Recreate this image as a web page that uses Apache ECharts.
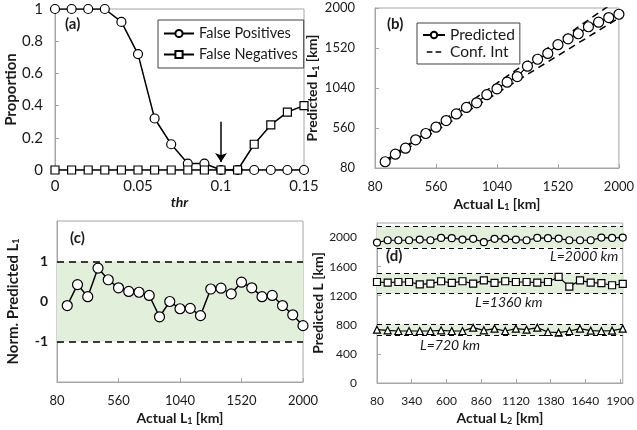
<!DOCTYPE html>
<html><head><meta charset="utf-8">
<script src="https://cdn.jsdelivr.net/npm/echarts@6/dist/echarts.min.js"></script>
<style>html,body{margin:0;padding:0;background:#fff}#c{width:637px;height:430px}</style>
</head><body><div id="c"></div>
<script>
// ---- Panel (a)
const thr = [0,0.01,0.02,0.03,0.04,0.05,0.06,0.07,0.08,0.09,0.1,0.11,0.12,0.13,0.14,0.15];
const falsePositives = [1,1,1,1,0.92,0.72,0.32,0.16,0.04,0.04,0,0,0,0,0,0];
const falseNegatives = [0,0,0,0,0,0,0,0,0,0,0,0,0.16,0.28,0.36,0.40];
const arrowThr = 0.1, arrowFrom = 0.3, arrowTo = 0.05;
// ---- Panel (b)
const actualL1 = [160,240,320,400,480,560,640,720,800,880,960,1040,1120,1200,1280,1360,1440,1520,1600,1680,1760,1840,1920,2000];
const predictedL1 = [155,246,318,418,494,570,649,729,807,862,960,1030,1110,1177,1302,1385,1455,1560,1630,1691,1775,1830,1885,1925];
const confX = [160,2000];
const confUpper = [170,2110];
const confLower = [150,1880];
const ticksL1 = [80,560,1040,1520,2000];
// ---- Panel (c)
const normL1 = [-0.1,0.42,0.12,0.83,0.54,0.34,0.25,0.23,0.15,-0.38,0.0,-0.18,-0.17,-0.35,0.31,0.33,0.19,0.48,0.34,0.12,0.15,-0.1,-0.33,-0.6];
const ticksNorm = [-1,0,1];
// ---- Panel (d)
const actualL2 = [80,160,240,320,400,480,560,640,720,800,880,960,1040,1120,1200,1280,1360,1440,1520,1600,1680,1760,1840,1920];
const pred2000 = [1931,1963,1963,1963,1972,1963,1995,1991,1972,1982,1936,1982,1982,1972,1963,1995,1991,1986,1963,1963,1963,2000,1995,2000];
const pred1360 = [1389,1380,1389,1389,1357,1367,1399,1376,1399,1367,1412,1376,1399,1389,1389,1380,1389,1458,1325,1412,1380,1372,1344,1362];
const pred720  = [733,724,715,715,715,715,724,715,715,761,724,747,715,747,733,761,701,692,715,747,720,715,720,747];
const band2000 = [1858,2156];
const band1360 = [1229,1504];
const band720  = [656,807];
const ticksL2x = [80,340,600,860,1120,1380,1640,1900];
const ticksL2y = [0,400,800,1200,1600,2000];

const FONT = 'Lato, "Open Sans", sans-serif';
const TXT = '#1a1a1a';
const GRAY = '#a6a6a6';
const GREEN = '#e2efda';

function zip(x, y){ return x.map((v,i)=>[v,y[i]]); }

function axis(o){
  const a = {
    type:'value', gridIndex:o.g, min:o.min, max:o.max,
    name:o.name, nameLocation:'middle', nameGap:o.nameGap,
    nameTextStyle:{fontFamily:FONT, fontSize:o.nameSize||14, fontWeight:'bold', color:TXT, fontStyle:o.italic?'italic':'normal',
      rich:{s:{fontFamily:FONT, fontSize:9, fontWeight:'bold', color:TXT, padding:[7,0,0,0]}}},
    axisLine:{show:true, onZero:false, lineStyle:{color:GRAY, width:1}},
    axisTick:{show:true, inside:true, length:4, lineStyle:{color:GRAY}},
    axisLabel:{fontFamily:FONT, fontSize:o.size||13, fontWeight:o.bold?'bold':'normal', color:TXT, margin:o.margin,
      hideOverlap:false, showMinLabel:true, showMaxLabel:true, formatter:(v)=>String(v)},
    splitLine:{show:false}
  };
  if (o.interval !== undefined) a.interval = o.interval;
  if (o.custom){ a.axisLabel.customValues = o.custom; a.axisTick.customValues = o.custom; }
  return a;
}

const markerStyle = {color:'#fff', borderColor:'#000', borderWidth:1.2};
const lineSt = {color:'#000', width:1.5};
const dashIcon = 'path://M0,4.2 h7 v1.6 h-7 z M11,4.2 h7 v1.6 h-7 z M0,0 h0.01 v10 h-0.01 z';

const option = {
  animation:false,
  textStyle:{fontFamily:FONT},
  grid:[
    {left:55, top:9, width:249, height:161, show:true, borderColor:GRAY, borderWidth:1},
    {left:375, top:8, width:247, height:160, show:true, borderColor:GRAY, borderWidth:1},
    {left:57, top:221, width:246, height:161, show:true, borderColor:GRAY, borderWidth:1},
    {left:377, top:223, width:247, height:160, show:true, borderColor:GRAY, borderWidth:1}
  ],
  xAxis:[
    axis({g:0, min:0, max:0.15, interval:0.05, name:'thr', nameGap:25, italic:true, margin:9, size:15}),
    axis({g:1, min:80, max:2000, custom:ticksL1, name:'Actual L{s|1} [km]', nameGap:28, margin:12, size:13}),
    axis({g:2, min:80, max:2000, custom:ticksL1, name:'Actual L{s|1} [km]', nameGap:28, margin:12, size:13}),
    axis({g:3, min:80, max:1920, custom:ticksL2x, name:'Actual L{s|2} [km]', nameGap:27, margin:12, size:12})
  ],
  yAxis:[
    axis({g:0, min:0, max:1, interval:0.2, name:'Proportion', nameGap:33, margin:12, size:15, nameSize:15}),
    axis({g:1, min:80, max:2000, custom:ticksL1, name:'Predicted L{s|1} [km]', nameGap:46, margin:20, size:13, nameSize:14}),
    axis({g:2, min:-2, max:2, custom:ticksNorm, name:'Norm. Predicted L{s|1}', nameGap:36, margin:9, size:14, bold:true, nameSize:15}),
    axis({g:3, min:0, max:2200, custom:ticksL2y, name:'Predicted L [km]', nameGap:42, margin:20, size:12, nameSize:14})
  ],
  legend:[
    {data:['False Positives','False Negatives'], orient:'vertical', left:158, top:20,
     borderColor:'#404040', borderWidth:1, borderRadius:0, padding:[6,6,6,5], itemWidth:30, itemHeight:9, itemGap:6,
     textStyle:{fontFamily:FONT, fontSize:14.5, color:TXT}},
    {data:['Predicted',{name:'Conf. Int', icon:dashIcon}], orient:'vertical', left:417, top:23,
     borderColor:'#404040', borderWidth:1, padding:[4,5,4,5], itemWidth:22, itemHeight:8, itemGap:1,
     textStyle:{fontFamily:FONT, fontSize:15.5, color:TXT}}
  ],
  graphic:[
    {type:'text', left:65, top:17, style:{text:'(a)', font:'bold 15px '+FONT, fill:TXT}},
    {type:'text', left:387, top:17, style:{text:'(b)', font:'bold 15px '+FONT, fill:TXT}},
    {type:'text', left:70, top:231, style:{text:'(c)', font:'bold 15px '+FONT, fill:TXT}},
    {type:'text', left:386, top:249, style:{text:'(d)', font:'bold 15px '+FONT, fill:TXT}},
    {type:'text', left:550, top:249, style:{text:'L=2000 km', font:'italic 14px '+FONT, fill:TXT}},
    {type:'text', left:475, top:295, style:{text:'L=1360 km', font:'italic 14px '+FONT, fill:TXT}},
    {type:'text', left:420, top:338, style:{text:'L=720 km', font:'italic 14px '+FONT, fill:TXT}}
  ],
  series:[
    {name:'False Positives', type:'line', xAxisIndex:0, yAxisIndex:0, data:zip(thr,falsePositives),
     symbol:'circle', symbolSize:9, itemStyle:markerStyle, lineStyle:lineSt, z:3},
    {name:'False Negatives', type:'line', xAxisIndex:0, yAxisIndex:0, data:zip(thr,falseNegatives),
     symbol:'rect', symbolSize:8, itemStyle:markerStyle, lineStyle:lineSt, z:4},
    {type:'lines', coordinateSystem:'cartesian2d', xAxisIndex:0, yAxisIndex:0,
     data:[{coords:[[arrowThr,arrowFrom],[arrowThr,arrowTo]]}], symbol:['none','arrow'], symbolSize:[0,9],
     lineStyle:{color:'#000', width:1.5, opacity:1}, z:5},
    {name:'Predicted', type:'line', xAxisIndex:1, yAxisIndex:1, data:zip(actualL1,predictedL1),
     symbol:'circle', symbolSize:10, itemStyle:markerStyle, lineStyle:{color:'#000', width:1.2}, z:4},
    {name:'Conf. Int', type:'line', xAxisIndex:1, yAxisIndex:1, data:zip(confX,confUpper),
     symbol:'none', lineStyle:{color:'#000', width:1.5, type:[7,5]}, itemStyle:{color:'#000'}, z:3},
    {name:'Conf. Int', type:'line', xAxisIndex:1, yAxisIndex:1, data:zip(confX,confLower),
     symbol:'none', lineStyle:{color:'#000', width:1.5, type:[7,5]}, itemStyle:{color:'#000'}, z:3},
    {name:'norm', type:'line', xAxisIndex:2, yAxisIndex:2, data:zip(actualL1,normL1),
     symbol:'circle', symbolSize:10, itemStyle:markerStyle, lineStyle:lineSt, z:4,
     markArea:{silent:true, itemStyle:{color:GREEN}, data:[[{yAxis:-1},{yAxis:1}]]},
     markLine:{silent:true, symbol:'none', label:{show:false}, lineStyle:{color:'#000', width:1.5, type:[7,5]},
       data:[{yAxis:1},{yAxis:-1}]}},
    {name:'L2000', type:'line', xAxisIndex:3, yAxisIndex:3, data:zip(actualL2,pred2000),
     symbol:'circle', symbolSize:7, itemStyle:markerStyle, lineStyle:{color:'#000', width:1.2}, z:4,
     markArea:{silent:true, itemStyle:{color:GREEN},
       data:[[{yAxis:band2000[0]},{yAxis:band2000[1]}],[{yAxis:band1360[0]},{yAxis:band1360[1]}],[{yAxis:band720[0]},{yAxis:band720[1]}]]},
     markLine:{silent:true, symbol:'none', label:{show:false}, lineStyle:{color:'#000', width:1.2, type:[5,4]},
       data:[{yAxis:band2000[0]},{yAxis:band2000[1]},{yAxis:band1360[0]},{yAxis:band1360[1]},{yAxis:band720[0]},{yAxis:band720[1]}]}},
    {name:'L1360', type:'line', xAxisIndex:3, yAxisIndex:3, data:zip(actualL2,pred1360),
     symbol:'rect', symbolSize:7, itemStyle:markerStyle, lineStyle:{color:'#000', width:1.2}, z:4},
    {name:'L720', type:'line', xAxisIndex:3, yAxisIndex:3, data:zip(actualL2,pred720),
     symbol:'triangle', symbolSize:7, itemStyle:markerStyle, lineStyle:{color:'#000', width:1.2}, z:4}
  ]
};
const chart = echarts.init(document.getElementById('c'), null, {renderer:'canvas'});
chart.setOption(option);
</script></body></html>
